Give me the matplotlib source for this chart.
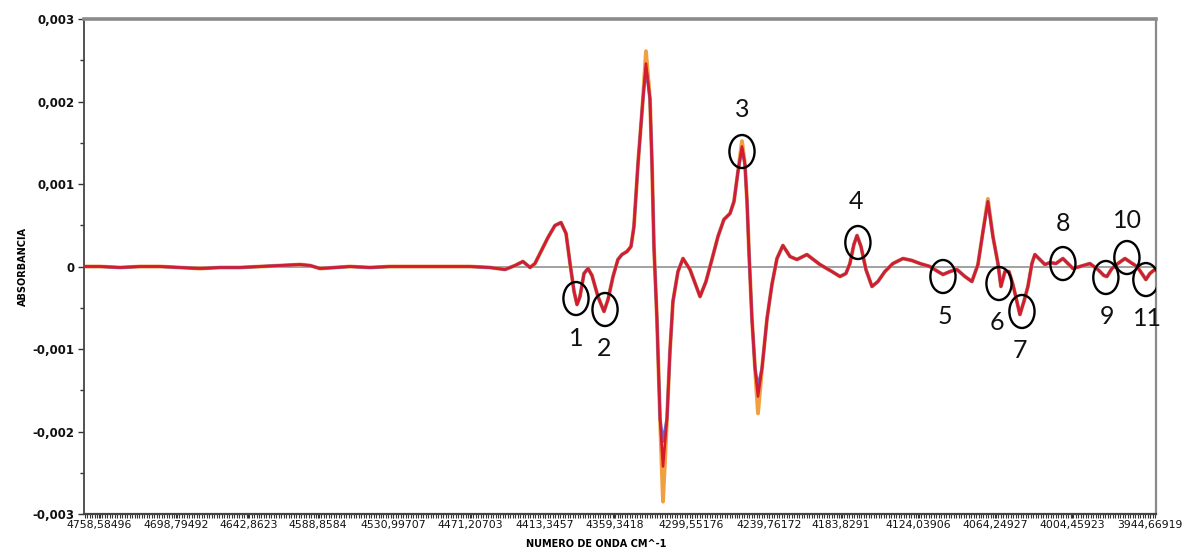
import matplotlib.pyplot as plt
from matplotlib.patches import Ellipse
from matplotlib.ticker import FixedLocator, MultipleLocator, FuncFormatter

# numero de onda (cm^-1) y absorbancia de la derivada
numero_onda = [
    4770.2, 4757.8, 4742.3, 4726.8, 4711.3, 4695.8, 4680.4, 4664.9, 4649.4, 4633.9,
    4618.4, 4602.9, 4595.1, 4587.4, 4575.8, 4564.2, 4548.7, 4533.2, 4517.7, 4502.2,
    4486.7, 4471.2, 4455.7, 4444.1, 4436.3, 4430.2, 4424.7, 4420.9, 4417.0, 4410.8,
    4405.4, 4400.7, 4396.8, 4393.7, 4390.6, 4388.3, 4386.0, 4382.9, 4379.8, 4376.7,
    4372.1, 4367.4, 4364.3, 4360.4, 4356.6, 4353.5, 4349.6, 4346.5, 4344.2, 4341.1,
    4337.2, 4334.9, 4331.8, 4330.2, 4328.7, 4326.4, 4324.0, 4321.7, 4318.6, 4316.3,
    4314.0, 4310.1, 4306.2, 4300.8, 4293.0, 4288.4, 4283.8, 4279.1, 4274.5, 4269.8,
    4266.7, 4263.6, 4260.5, 4258.2, 4256.6, 4255.1, 4252.8, 4250.4, 4248.1, 4245.0,
    4241.1, 4237.3, 4233.4, 4228.8, 4223.3, 4217.9, 4210.2, 4200.1, 4190.8, 4184.6,
    4180.0, 4176.9, 4173.8, 4171.4, 4168.3, 4164.5, 4159.8, 4155.2, 4149.8, 4143.6,
    4135.8, 4128.8, 4122.6, 4114.9, 4108.7, 4104.8, 4099.4, 4094.0, 4087.8, 4082.4,
    4077.7, 4073.8, 4070.0, 4066.1, 4062.2, 4059.9, 4056.8, 4053.7, 4050.6, 4047.5,
    4045.2, 4042.1, 4039.0, 4035.9, 4033.6, 4029.7, 4025.8, 4021.9, 4017.3, 4011.9,
    4008.0, 4004.1, 3998.7, 3991.0, 3984.8, 3980.1, 3977.8, 3973.9, 3969.3, 3963.8,
    3959.2, 3954.5, 3950.7, 3947.6, 3944.5, 3939.8,
]
absorbancia = [
    0.0, 0.0, -0.000012, 0.0, 0.0, -0.000012, -0.000024, -0.000012, -0.000012, 0.0,
    0.000012, 0.000024, 0.000012, -0.000024, -0.000012, 0.0, -0.000012, 0.0, 0.0, 0.0,
    0.0, 0.0, -0.000012, -0.000036, 0.000012, 0.000061, -0.000012, 0.000036, 0.000158, 0.000352,
    0.000497, 0.000533, 0.0004, 0.000036, -0.000303, -0.000461, -0.000364, -0.000085, -0.000024, -0.000109,
    -0.000364, -0.000545, -0.0004, -0.000121, 0.000085, 0.000145, 0.000182, 0.000242, 0.000485, 0.001236,
    0.002036, 0.00246, 0.002036, 0.001236, 0.000242, -0.00063, -0.001842, -0.002424, -0.001842, -0.00103,
    -0.000424, -0.000061, 0.000097, -0.000036, -0.000364, -0.000182, 0.000085, 0.000364, 0.00057, 0.000642,
    0.000788, 0.001152, 0.001455, 0.001236, 0.000788, 0.000182, -0.00063, -0.001236, -0.001576, -0.001236,
    -0.00063, -0.000218, 0.000097, 0.000255, 0.000121, 0.000085, 0.000145, 0.000024, -0.000061, -0.000121,
    -0.000085, 0.000036, 0.000267, 0.000376, 0.000242, -0.000036, -0.000242, -0.000182, -0.000061, 0.000036,
    0.000097, 0.000073, 0.000036, 0.0, -0.000061, -0.000097, -0.000061, -0.000036, -0.000121, -0.000182,
    0.000024, 0.000424, 0.000788, 0.000364, 0.000036, -0.000242, -0.000061, -0.000061, -0.000218, -0.000424,
    -0.000582, -0.000424, -0.000242, 0.000036, 0.000145, 0.000085, 0.000024, 0.000048, 0.000036, 0.000097,
    0.000036, -0.000024, 0.0, 0.000036, -0.000036, -0.000109, -0.000121, -0.000024, 0.000036, 0.000097,
    0.000048, 0.0, -0.000085, -0.000158, -0.000085, -0.000024,
]

# las otras muestras solo se separan en los extremos
extremos_naranja = {4334.9: 0.00261, 4321.7: -0.00285, 4260.5: 0.00152, 4248.1: -0.00178, 4070.0: 0.00082}
extremos_azul = {4334.9: 0.00240, 4321.7: -0.00212, 4260.5: 0.00143, 4248.1: -0.00145}

etiquetas_x = [4758.58496, 4698.79492, 4642.8623, 4588.8584, 4530.99707, 4471.20703, 4413.3457,
               4359.3418, 4299.55176, 4239.76172, 4183.8291, 4124.03906, 4064.24927, 4004.45923,
               3944.66919]
texto_x = ["4758,58496", "4698,79492", "4642,8623", "4588,8584", "4530,99707", "4471,20703",
           "4413,3457", "4359,3418", "4299,55176", "4239,76172", "4183,8291", "4124,03906",
           "4064,24927", "4004,45923", "3944,66919"]

# bandas marcadas: (numero, centro del circulo, posicion del numero)
bandas = [
    ("1", 4389.1, -0.000388, 4389.1, -0.000873),
    ("2", 4366.6, -0.000521, 4367.4, -0.000994),
    ("3", 4260.5, 0.001394, 4260.5, 0.001903),
    ("4", 4170.7, 0.000291, 4172.2, 0.000788),
    ("5", 4104.8, -0.000121, 4103.3, -0.000606),
    ("6", 4061.4, -0.000206, 4063.0, -0.000679),
    ("7", 4043.6, -0.000545, 4045.2, -0.001018),
    ("8", 4011.9, 0.000036, 4011.9, 0.000521),
    ("9", 3978.6, -0.000133, 3977.8, -0.000606),
    ("10", 3962.3, 0.000109, 3961.5, 0.000558),
    ("11", 3947.6, -0.000158, 3946.0, -0.00063),
]


def muestra(extremos):
    return [extremos.get(w, a) for w, a in zip(numero_onda, absorbancia)]


fig = plt.figure(figsize=(11.99, 5.53), dpi=100)
ax = fig.add_axes([0.0701, 0.0705, 0.8940, 0.8951])

ax.axhline(0, color="#9a9a9a", lw=1.3, zorder=1)
ax.plot(numero_onda, muestra(extremos_naranja), color="#f0a040", lw=2.8, zorder=2)
ax.plot(numero_onda, muestra(extremos_azul), color="#6a6ad0", lw=2.2, zorder=3)
ax.plot(numero_onda, absorbancia, color="#d81a2a", lw=1.9, zorder=4)

for num, cx, cy, tx, ty in bandas:
    ax.add_patch(Ellipse((cx, cy), 19.5, 0.00040, fill=False, ec="black", lw=1.7, zorder=5))
    ax.text(tx, ty, num, fontsize=18, family="Lato", ha="center", va="center", color="#111111")

ax.set_xlim(4770.2, 3939.8)
ax.set_ylim(-0.003, 0.003)

ax.xaxis.set_major_locator(FixedLocator(etiquetas_x))
ax.set_xticklabels(texto_x, fontsize=7.8, color="#111111")
ax.xaxis.set_minor_locator(MultipleLocator(1.9287))
ax.tick_params(axis="x", which="both", direction="out", length=3, width=0.8, pad=1.5, colors="#333333")
ax.tick_params(axis="x", labelcolor="#111111")

ax.yaxis.set_major_locator(MultipleLocator(0.001))
ax.yaxis.set_minor_locator(MultipleLocator(0.0005))
ax.yaxis.set_major_formatter(FuncFormatter(lambda v, p: "0" if abs(v) < 1e-9 else f"{v:.3f}".replace(".", ",")))
ax.tick_params(axis="y", which="major", length=4, width=1, pad=3, labelsize=8.5, colors="#333333")
ax.tick_params(axis="y", which="minor", length=3, width=1, colors="#333333")
for t in ax.get_yticklabels():
    t.set_fontweight("bold")
    t.set_color("#111111")

ax.set_ylabel("ABSORBANCIA", fontsize=7, fontweight="bold")
ax.yaxis.set_label_coords(-0.052, 0.5)
ax.set_xlabel("NUMERO DE ONDA CM^-1", fontsize=7, fontweight="bold")
ax.xaxis.set_label_coords(0.478, -0.051)

ax.spines["left"].set_color("#444444")
ax.spines["left"].set_linewidth(1.3)
ax.spines["bottom"].set_color("#444444")
ax.spines["bottom"].set_linewidth(1.6)
ax.spines["top"].set_color("#8a8a8a")
ax.spines["top"].set_linewidth(2.6)
ax.spines["right"].set_color("#8a8a8a")
ax.spines["right"].set_linewidth(1.6)

fig.savefig("out.png", dpi=100)
